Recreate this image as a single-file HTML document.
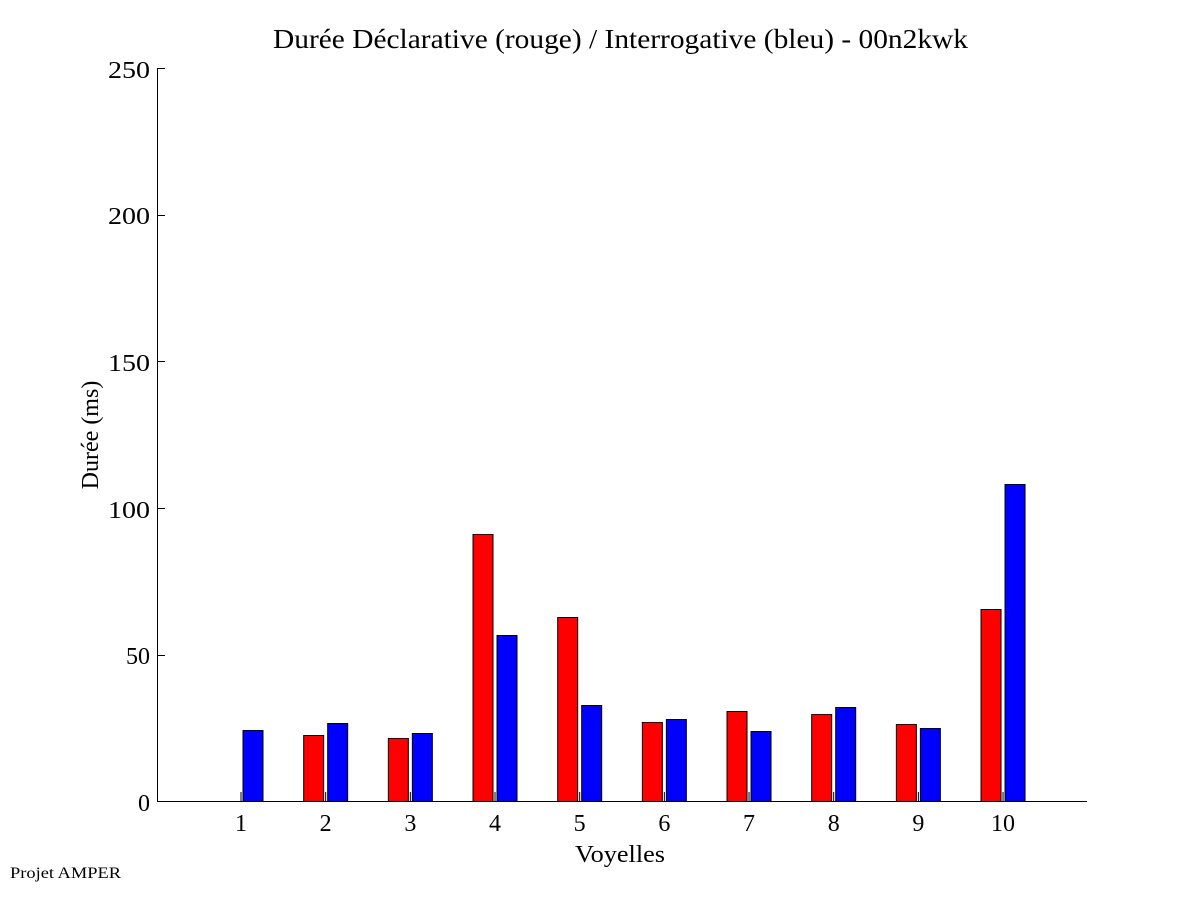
<!DOCTYPE html>
<html><head><style>body{margin:0;background:#fff}</style></head><body>
<svg width="1201" height="901" xmlns="http://www.w3.org/2000/svg" font-family="Liberation Serif, serif">
<rect width="1201" height="901" fill="#fff"/>
<text x="273" y="48" font-size="27" textLength="695" lengthAdjust="spacingAndGlyphs">Durée Déclarative (rouge) / Interrogative (bleu) - 00n2kwk</text>
<g stroke="#000" stroke-width="1" fill="none">
<line x1="157.5" y1="68" x2="157.5" y2="802"/>
<line x1="157" y1="801.5" x2="1087" y2="801.5"/>
<line x1="157" y1="68.5" x2="165" y2="68.5"/>
<line x1="157" y1="215.5" x2="165" y2="215.5"/>
<line x1="157" y1="361.5" x2="165" y2="361.5"/>
<line x1="157" y1="508.5" x2="165" y2="508.5"/>
<line x1="157" y1="655.5" x2="165" y2="655.5"/>
</g>
<g font-size="24" text-anchor="end">
<text x="150" y="78" textLength="42" lengthAdjust="spacingAndGlyphs">250</text><text x="150" y="224" textLength="42" lengthAdjust="spacingAndGlyphs">200</text><text x="150" y="371" textLength="42" lengthAdjust="spacingAndGlyphs">150</text><text x="150" y="518" textLength="42" lengthAdjust="spacingAndGlyphs">100</text><text x="150" y="664">50</text><text x="150" y="811">0</text>
</g>
<text x="98" y="435" font-size="24" text-anchor="middle" transform="rotate(-90 98 435)">Durée (ms)</text>
<text x="575" y="862" font-size="24" textLength="90" lengthAdjust="spacingAndGlyphs">Voyelles</text>
<text x="10" y="878" font-size="16" textLength="111" lengthAdjust="spacingAndGlyphs">Projet AMPER</text>
<g id="bars" stroke="#000" stroke-width="1"></g>
<g id="lab" font-size="24" text-anchor="middle"></g>
</svg>
<script>
var red=[null,735,738,534,617,722,711,714,724,609];
var blue=[730,723,733,635,705,719,731,707,728,484];
var g=document.getElementById('bars'),l=document.getElementById('lab'),ns='http://www.w3.org/2000/svg';
for(var i=0;i<10;i++){var c=241+i*84.67;
 function r(x,y,f){var e=document.createElementNS(ns,'rect');e.setAttribute('x',x);e.setAttribute('y',y);e.setAttribute('width',20);e.setAttribute('height',801.5-y);e.setAttribute('fill',f);g.appendChild(e);}
 if(red[i])r(c-22,red[i]+0.5,'#f00');
 r(c+2,blue[i]+0.5,'#00f');
 var t=document.createElementNS(ns,'line');t.setAttribute('x1',c);t.setAttribute('x2',c);t.setAttribute('y1',792);t.setAttribute('y2',801);g.appendChild(t);
 var tx=document.createElementNS(ns,'text');tx.setAttribute('x',c);tx.setAttribute('y',831);tx.textContent=i+1;l.appendChild(tx);}
</script>
</body></html>
